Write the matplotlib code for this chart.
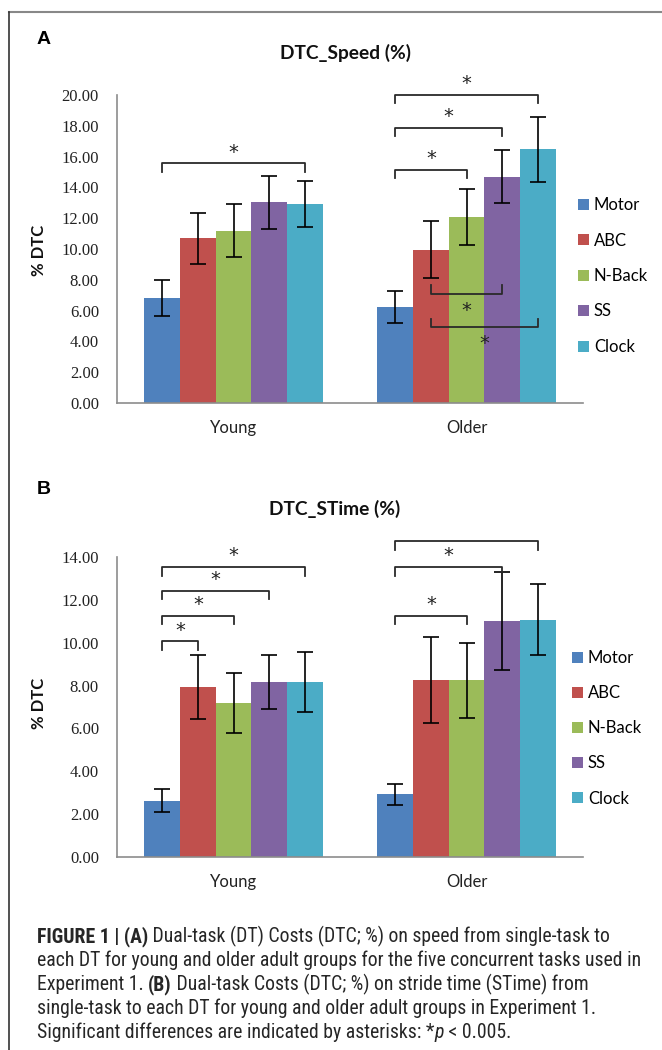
import matplotlib
matplotlib.use("Agg")
import matplotlib.pyplot as plt
import numpy as np
from matplotlib import font_manager
from matplotlib.lines import Line2D

W, H = 662, 1050

groups = ["Young", "Older"]
tasks = ["Motor", "ABC", "N-Back", "SS", "Clock"]
colors = ["#4F81BD", "#C0504D", "#9BBB59", "#8064A2", "#4BACC6"]

speed_young = [6.81, 10.70, 11.20, 13.04, 12.91]
speed_young_err = [1.18, 1.67, 1.75, 1.73, 1.50]
speed_older = [6.23, 9.95, 12.06, 14.70, 16.48]
speed_older_err = [1.05, 1.86, 1.82, 1.70, 2.10]

stime_young = [2.62, 7.95, 7.20, 8.17, 8.17]
stime_young_err = [0.54, 1.49, 1.40, 1.28, 1.41]
stime_older = [2.93, 8.26, 8.26, 11.02, 11.07]
stime_older_err = [0.49, 2.00, 1.75, 2.28, 1.66]

# significance brackets: (group, task a, task b, height, direction)
speed_sig = [
    (0, 0, 4, 15.57, 1),
    (1, 0, 4, 20.0, 1),
    (1, 0, 3, 17.88, 1),
    (1, 0, 2, 15.14, 1),
    (1, 1, 3, 7.09, -1),
    (1, 1, 4, 4.93, -1),
]
stime_sig = [
    (0, 0, 4, 13.53, 1),
    (0, 0, 3, 12.43, 1),
    (0, 0, 2, 11.26, 1),
    (0, 0, 1, 10.06, 1),
    (1, 0, 4, 14.75, 1),
    (1, 0, 3, 13.53, 1),
    (1, 0, 2, 11.26, 1),
]

caption_lines = [
    [("FIGURE 1 | (A)", "bold", "normal"),
     (" Dual-task (DT) Costs (DTC; %) on speed from single-task to", "normal", "normal")],
    [("each DT for young and older adult groups for the five concurrent tasks used in", "normal", "normal")],
    [("Experiment 1. ", "normal", "normal"), ("(B)", "bold", "normal"),
     (" Dual-task Costs (DTC; %) on stride time (STime) from", "normal", "normal")],
    [("single-task to each DT for young and older adult groups in Experiment 1.", "normal", "normal")],
    [("Significant differences are indicated by asterisks: *", "normal", "normal"),
     ("p", "normal", "italic"), (" < 0.005.", "normal", "normal")],
]

SANS = ["Lato", "DejaVu Sans"]
SERIF = ["Liberation Serif", "DejaVu Serif"]
BAR_W = 0.153
CENTERS = np.array([0.5, 1.5])


def fx(x):
    return x / W


def fy(y):
    return 1 - y / H


def bar_x(g, i):
    return CENTERS[g] + (i - 2) * BAR_W


def draw_panel(fig, rect, ymax, young, young_err, older, older_err, sig, tick,
               title, title_pos, letter, letter_pos, ylab_y, leg_pos, leg_space):
    ax = fig.add_axes(rect)
    for i, task in enumerate(tasks):
        ax.bar([bar_x(0, i), bar_x(1, i)], [young[i], older[i]], BAR_W,
               yerr=[young_err[i], older_err[i]], color=colors[i], label=task,
               capsize=5.5, error_kw=dict(elinewidth=1.2, capthick=1.2, ecolor="black"))
    ax.set_xlim(0, 2)
    ax.set_ylim(0, ymax)
    ax.set_yticks(np.arange(0, ymax + 0.01, 2))
    ax.set_yticklabels([f"{v:.2f}" for v in np.arange(0, ymax + 0.01, 2)],
                       family=SERIF, fontsize=12, color="#222222")
    ax.set_xticks(CENTERS)
    ax.set_xticklabels(groups, family=SANS, fontsize=12, color="#222222")
    ax.tick_params(axis="y", length=0, pad=13)
    ax.tick_params(axis="x", length=0, pad=12)
    for s in ["top", "right"]:
        ax.spines[s].set_visible(False)
    for s in ["left", "bottom"]:
        ax.spines[s].set_color("#8c8c8c")
        ax.spines[s].set_linewidth(1.2)

    for g, a, b, y, d in sig:
        x1, x2 = bar_x(g, a), bar_x(g, b)
        ax.plot([x1, x1, x2, x2], [y - d * tick, y, y, y - d * tick],
                color="#2a2a2a", lw=1.3, clip_on=False)
        ax.annotate("*", ((x1 + x2) / 2, y), xytext=(0, 8 if d > 0 else -12),
                    textcoords="offset points", ha="center", va="center",
                    fontsize=14, family="DejaVu Sans", color="#222222")

    ax.legend(loc="upper left", bbox_to_anchor=(fx(leg_pos[0]), fy(leg_pos[1])),
              bbox_transform=fig.transFigure, frameon=False, borderpad=0,
              handlelength=0.65, handleheight=0.65, handletextpad=0.3,
              labelspacing=leg_space, borderaxespad=0,
              prop=dict(family=SANS, size=12))

    fig.text(fx(title_pos[0]), fy(title_pos[1]), title, ha="center", va="center",
             family=SANS, fontsize=13.8, fontweight="bold", color="#111111")
    fig.text(fx(letter_pos[0]), fy(letter_pos[1]), letter, ha="left", va="center",
             family=["Liberation Sans", "DejaVu Sans"], fontsize=14,
             fontweight="bold", color="black")
    fig.text(fx(39), fy(ylab_y), "% DTC", rotation=90, ha="center", va="center",
             family=SANS, fontsize=12, fontweight="bold", color="#111111")
    return ax


def draw_caption(fig, lines, x0, baselines, target_w):
    names = {f.name for f in font_manager.fontManager.ttflist}
    fam = ["Liberation Sans"]
    for cand in ["Liberation Sans Narrow", "Roboto Condensed", "Roboto"]:
        if cand in names:
            fam = [cand]
            break
    fam = fam + ["DejaVu Sans"]
    r = fig.canvas.get_renderer()
    probe = fig.text(0, 0, lines[1][0][0], family=fam, fontsize=14)
    w = probe.get_window_extent(r).width
    probe.remove()
    size = 14 * target_w / w
    for runs, yb in zip(lines, baselines):
        x = x0
        for txt, weight, style in runs:
            t = fig.text(fx(x), fy(yb), txt, family=fam, fontsize=size,
                         fontweight=weight, fontstyle=style, va="baseline",
                         ha="left", color="#262626")
            x += t.get_window_extent(r).width


fig = plt.figure(figsize=(W / 100, H / 100), dpi=100)

draw_panel(fig, [fx(117), fy(403), 466 / W, 308 / H], 20,
           speed_young, speed_young_err, speed_older, speed_older_err,
           speed_sig, 0.55, "DTC_Speed (%)", (346, 53), "A", (37, 40), 250,
           (578, 197), 1.17)
draw_panel(fig, [fx(117), fy(857), 466 / W, 300 / H], 14,
           stime_young, stime_young_err, stime_older, stime_older_err,
           stime_sig, 0.4, "DTC_STime (%)", (335, 509), "B", (37, 490), 703,
           (572, 650), 1.15)

# frame lines
fig.add_artist(Line2D([fx(9), 1], [fy(12), fy(12)], color="#888888", lw=1.5))
fig.add_artist(Line2D([fx(9), fx(9)], [fy(12), 0], color="#333333", lw=1.2))

draw_caption(fig, caption_lines, 37, [942, 966, 990, 1014, 1038], 609)

fig.savefig("out.png", dpi=100)
